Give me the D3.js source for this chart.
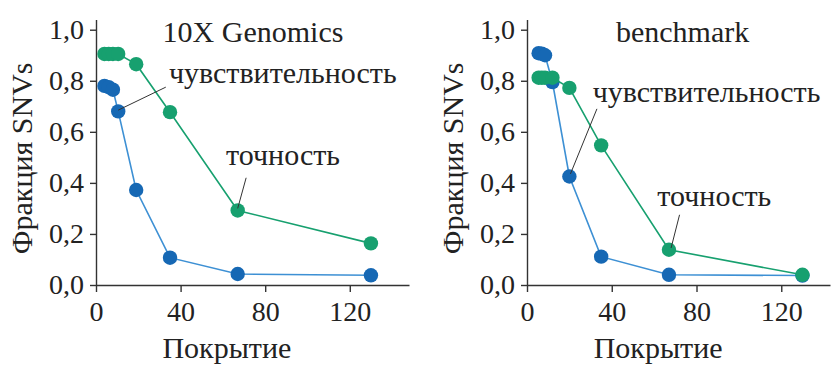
<!DOCTYPE html>
<html>
<head>
<meta charset="utf-8">
<script src="https://cdn.jsdelivr.net/npm/d3@7"></script>
<style>
  body { margin: 0; background: #fff; }
  text { font-family: "Liberation Serif", "Times New Roman", serif; fill: #222; }
</style>
</head>
<body>
<svg width="832" height="365"></svg>
<script>
// coverage values (x) and fractions for each panel
const coverageLeft = [4, 6, 8, 10.5, 19, 35, 67, 130];
const sensLeft = [0.78, 0.775, 0.765, 0.68, 0.372, 0.107, 0.043, 0.038];
const precLeft = [0.905, 0.905, 0.905, 0.905, 0.865, 0.677, 0.292, 0.163];

const coverageRight = [5.5, 7, 8.5, 12, 20, 35, 67, 130];
const sensRight = [0.908, 0.906, 0.9, 0.795, 0.425, 0.111, 0.04, 0.037];
const precRight = [0.812, 0.812, 0.812, 0.812, 0.772, 0.547, 0.138, 0.04];

const yTicks = [0, 0.2, 0.4, 0.6, 0.8, 1.0];
const xTicks = [0, 40, 80, 120];
const titles = ['10X Genomics', 'benchmark'];

const blueDot = '#1668b4', blueLine = '#3d90d4', green = '#17a06f';

const svg = d3.select('svg');

const panels = [
  {title: titles[0], cov: coverageLeft, sens: sensLeft, prec: precLeft, x0: 96, x1: 409, xmax: 148,
   sensLabel: {x: 34.5, y: 0.79, tx: 33, ty: 0.775, px: 10.5, py: 0.685},
   precLabel: {x: 61.5, y: 0.47, tx: 71, ty: 0.42, px: 67, py: 0.30},
   titleAt: {x: 31.5, y: 0.95}},
  {title: titles[1], cov: coverageRight, sens: sensRight, prec: precRight, x0: 527, x1: 830, xmax: 143,
   sensLabel: {x: 31, y: 0.715, tx: 33, ty: 0.69, px: 20.5, py: 0.435},
   precLabel: {x: 61.5, y: 0.31, tx: 72, ty: 0.275, px: 68, py: 0.145},
   titleAt: {x: 42, y: 0.95}}
];

const fmt = d => d3.format('.1f')(d).replace('.', ',');

panels.forEach(p => {
  const x = d3.scaleLinear().domain([0, p.xmax]).range([p.x0, p.x1]);
  const y = d3.scaleLinear().domain([0, 1.04]).range([285, 19.5]);
  const g = svg.append('g');

  const yAxis = g.append('g')
    .attr('transform', `translate(${p.x0},0)`)
    .call(d3.axisLeft(y).tickValues(yTicks).tickFormat(fmt).tickSize(6).tickSizeOuter(0).tickPadding(6));
  const xAxis = g.append('g')
    .attr('transform', `translate(0,285)`)
    .call(d3.axisBottom(x).tickValues(xTicks).tickSize(7).tickSizeOuter(0).tickPadding(9));
  [yAxis, xAxis].forEach(a => {
    a.selectAll('path, line').attr('stroke', '#333').attr('stroke-width', 1.4);
    a.selectAll('text').style('font-size', '28px').attr('fill', '#222')
      .style('font-family', '"Liberation Serif", serif');
  });

  // axis titles
  g.append('text')
    .attr('x', (p.x0 + x(120)) / 2 + 4).attr('y', 358)
    .attr('text-anchor', 'middle').style('font-size', '30px').text('Покрытие');
  g.append('text')
    .attr('transform', `translate(${p.x0 - 64},${y(0.5) + 1}) rotate(-90)`)
    .attr('text-anchor', 'middle').style('font-size', '30px').text('Фракция SNVs');

  const line = d3.line().x(d => x(d[0])).y(d => y(d[1]));
  const sensPts = p.cov.map((c, i) => [c, p.sens[i]]);
  const precPts = p.cov.map((c, i) => [c, p.prec[i]]);

  g.append('path').datum(sensPts).attr('d', line)
    .attr('fill', 'none').attr('stroke', blueLine).attr('stroke-width', 1.6);
  g.selectAll('.sens').data(sensPts).enter().append('circle')
    .attr('cx', d => x(d[0])).attr('cy', d => y(d[1])).attr('r', 7.2).attr('fill', blueDot);

  g.append('path').datum(precPts).attr('d', line)
    .attr('fill', 'none').attr('stroke', green).attr('stroke-width', 1.6);
  g.selectAll('.prec').data(precPts).enter().append('circle')
    .attr('cx', d => x(d[0])).attr('cy', d => y(d[1])).attr('r', 7.2).attr('fill', green);

  // title
  g.append('text').attr('x', x(p.titleAt.x)).attr('y', y(p.titleAt.y))
    .style('font-size', '30px').text(p.title);

  // annotations with leader lines
  const s = p.sensLabel;
  g.append('text').attr('x', x(s.x)).attr('y', y(s.y)).style('font-size', '30px').text('чувствительность');
  g.append('line').attr('x1', x(s.tx)).attr('y1', y(s.ty)).attr('x2', x(s.px)).attr('y2', y(s.py))
    .attr('stroke', '#333').attr('stroke-width', 1);
  const t = p.precLabel;
  g.append('text').attr('x', x(t.x)).attr('y', y(t.y)).style('font-size', '30px').text('точность');
  g.append('line').attr('x1', x(t.tx)).attr('y1', y(t.ty)).attr('x2', x(t.px)).attr('y2', y(t.py))
    .attr('stroke', '#333').attr('stroke-width', 1);
});
</script>
</body>
</html>
